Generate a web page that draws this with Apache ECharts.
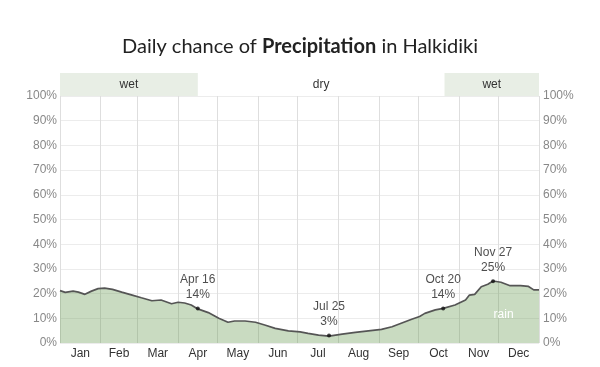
<!DOCTYPE html>
<html>
<head>
<meta charset="utf-8">
<script src="https://cdn.jsdelivr.net/npm/echarts@6/dist/echarts.min.js"></script>
<style>html,body{margin:0;padding:0;background:#fff}#c{width:600px;height:367px}</style>
</head>
<body>
<div id="c"></div>
<script>
// Day of year (0 = Jan 1) and daily chance of precipitation (%)
var days = [0,4,10,14,19,24,29,34,40,47,55,62,70,77,85,90,95,100,105,113,121,128,133,141,149,156,164,174,183,189,197,205,215,225,235,245,253,260,268,274,278,286,292,301,309,312,316,321,326,330,336,343,351,357,361,365];
var chance = [21.2,20.5,21,20.6,19.7,21,22,22.2,21.7,20.6,19.4,18.3,17.1,17.4,15.9,16.5,16.2,15.4,13.8,12.3,10,8.4,8.9,8.9,8.4,7.3,5.9,4.9,4.5,3.9,3.2,2.8,3.6,4.3,4.9,5.5,6.6,8,9.6,10.7,12,13.4,14,15.4,17.4,19.4,19.7,22.8,23.8,25.1,24.6,23.2,23.2,22.9,21.5,21.5];

var months = ['Jan','Feb','Mar','Apr','May','Jun','Jul','Aug','Sep','Oct','Nov','Dec'];
var monthStarts = [0,31,59,90,120,151,181,212,243,273,304,334,365];
var yTicks = [0,10,20,30,40,50,60,70,80,90,100];

var annDays = [105,205,292,330];
var annValues = [14,3,14,25];
var annDates = ['Apr 16','Jul 25','Oct 20','Nov 27'];

var wetPeriods = [[0,105],[293,365]];
var dryPeriod = [105,293];
var rainLabelPos = [338,11.3];

var monthMids = [];
for (var i = 0; i < 12; i++) monthMids.push((monthStarts[i] + monthStarts[i+1]) / 2);

var lineData = days.map(function(d,i){return [d, chance[i]];});
var annData = annDays.map(function(d,i){return {value:[d, annValues[i]], name: annDates[i]};});

var chart = echarts.init(document.getElementById('c'), null, {renderer:'canvas'});
var labelFont = 'Liberation Sans, Arial, sans-serif';

var bandAreas = wetPeriods.map(function(p){
  return [{xAxis:p[0], itemStyle:{color:'#e8eee5'}, label:{show:true, formatter:'wet'}}, {xAxis:p[1]}];
});
bandAreas.push([{xAxis:dryPeriod[0], itemStyle:{color:'rgba(255,255,255,0)'}, label:{show:true, formatter:'dry'}}, {xAxis:dryPeriod[1]}]);

chart.setOption({
  animation:false,
  backgroundColor:'#fff',
  title:{
    left:'center', top:32,
    text:'{a|Daily chance of }{b|Precipitation}{a| in Halkidiki}',
    textStyle:{
      rich:{
        a:{fontFamily:'Lato, sans-serif', fontSize:20, color:'#222', fontWeight:'normal'},
        b:{fontFamily:'Lato, sans-serif', fontSize:20, color:'#222', fontWeight:'bold'}
      }
    }
  },
  grid:[
    {left:60, right:61, top:96, bottom:24},
    {left:60, right:61, top:73, height:23}
  ],
  xAxis:[
    {
      type:'value', gridIndex:0, min:0, max:365,
      axisLine:{show:false},
      axisTick:{show:false, customValues:monthStarts},
      splitLine:{show:true, lineStyle:{color:'#dedede', width:1}},
      axisLabel:{
        customValues:monthMids, margin:5,
        color:'#333', fontSize:12, fontFamily:labelFont,
        formatter:function(v){ var k = monthMids.indexOf(v); return k>=0 ? months[k] : ''; }
      }
    },
    {type:'value', gridIndex:1, min:0, max:365, show:false}
  ],
  yAxis:[
    {
      type:'value', gridIndex:0, min:0, max:100, interval:10, position:'left',
      axisLine:{show:false}, axisTick:{show:false},
      splitLine:{show:true, lineStyle:{color:'#ececec'}},
      axisLabel:{margin:3, color:'#888', fontSize:12, fontFamily:labelFont, formatter:'{value}%'}
    },
    {
      type:'value', gridIndex:0, min:0, max:100, interval:10, position:'right',
      axisLine:{show:false}, axisTick:{show:false}, splitLine:{show:false},
      axisLabel:{margin:4, color:'#888', fontSize:12, fontFamily:labelFont, formatter:'{value}%'}
    },
    {type:'value', gridIndex:1, min:0, max:1, show:false}
  ],
  series:[
    {
      type:'line', xAxisIndex:0, yAxisIndex:0, data:lineData,
      symbol:'none', smooth:false, z:3,
      lineStyle:{color:'#555', width:1.7},
      areaStyle:{color:'rgba(102,152,80,0.5)'},
      markPoint:{
        symbol:'circle', symbolSize:0, silent:true,
        data:[{coord:rainLabelPos, label:{show:true, formatter:'rain', color:'#fff', fontSize:12, fontFamily:labelFont, position:'inside'}}]
      }
    },
    {
      type:'scatter', xAxisIndex:0, yAxisIndex:0, data:annData, z:5,
      symbol:'circle', symbolSize:4, itemStyle:{color:'#111'},
      label:{
        show:true, position:'top', distance:4,
        color:'#222', fontSize:12, fontFamily:labelFont, lineHeight:15,
        formatter:function(p){ return p.name + '\n' + p.value[1] + '%'; }
      }
    },
    {
      type:'line', xAxisIndex:1, yAxisIndex:2, data:[[0,0]], symbol:'none',
      lineStyle:{opacity:0}, silent:true,
      markArea:{
        silent:true,
        label:{position:'inside', color:'#333', fontSize:12, fontFamily:labelFont},
        data:bandAreas
      }
    }
  ]
});
</script>
</body>
</html>
